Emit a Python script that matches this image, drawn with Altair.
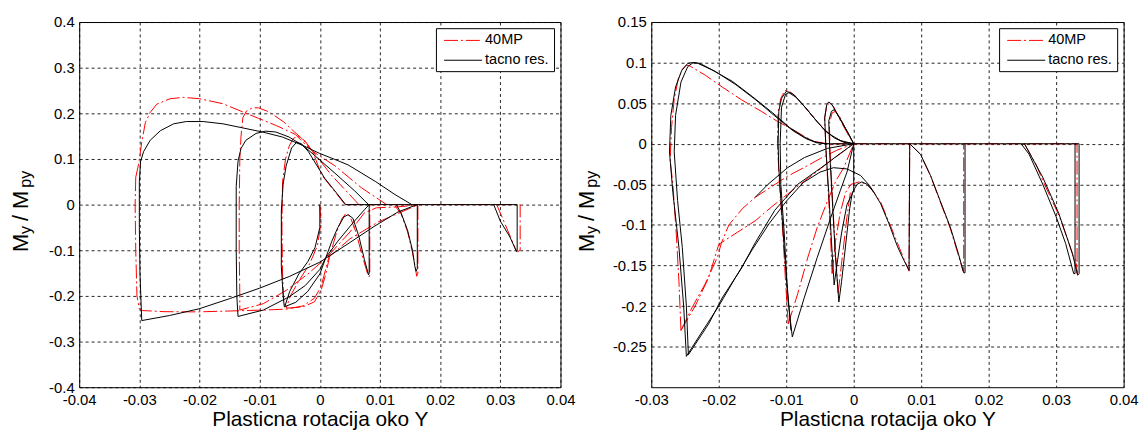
import altair as alt
import pandas as pd

FONT = "Liberation Sans"
RED = "#ff0000"
DASHDOT = [14, 3, 2, 3]

# ---------------- left panel : 40MP (red) ----------------
LR_L3_top = [(-0.0306, 0.06), (-0.0301, 0.09), (-0.0296, 0.137), (-0.029, 0.18), (-0.0282, 0.202),
             (-0.0271, 0.22), (-0.0249, 0.232), (-0.0227, 0.235), (-0.02, 0.232), (-0.0161, 0.221),
             (-0.0128, 0.203), (-0.0102, 0.189), (-0.0072, 0.173), (-0.0041, 0.154), (-0.0025, 0.133),
             (-0.0012, 0.117), (0.0025, 0.085), (0.0069, 0.037), (0.0111, 0.0)]
LR_L3_side = [(-0.0306, 0.06), (-0.0307, 0.0), (-0.0306, -0.1), (-0.0304, -0.2), (-0.0300, -0.229),
              (-0.0295, -0.232), (-0.0259, -0.2345), (-0.0204, -0.235), (-0.0149, -0.233), (-0.0094, -0.231),
              (-0.0056, -0.229), (-0.0028, -0.222), (-0.0009, -0.205), (0.0002, -0.18), (0.001, -0.14),
              (0.0015, -0.115), (0.005, -0.075), (0.0097, -0.038), (0.0164, 0.0)]
LR_L2 = [(0.0065, 0.0), (0.0019, 0.065), (-0.0012, 0.117), (-0.003, 0.145), (-0.0042, 0.159), (-0.006, 0.181),
         (-0.0084, 0.203), (-0.0102, 0.212), (-0.0112, 0.212), (-0.0122, 0.205), (-0.0128, 0.19), (-0.0131, 0.15),
         (-0.0133, 0.1), (-0.0134, 0.0), (-0.0134, -0.1), (-0.0133, -0.2), (-0.0133, -0.231), (-0.0094, -0.217),
         (-0.0056, -0.188), (-0.002, -0.152), (0.0012, -0.115), (0.005, -0.06), (0.0074, -0.018),
         (0.0094, -0.007), (0.0129, -0.005), (0.0162, -0.001)]
LR_spike2 = [(0.0125, -0.003), (0.0135, -0.02), (0.0146, -0.06), (0.0154, -0.105), (0.0159, -0.14),
             (0.0161, -0.157), (0.0163, -0.15), (0.0163, 0.0)]
LR_L1 = [(0.0042, 0.0), (0.0003, 0.065), (-0.0012, 0.117), (-0.0025, 0.14), (-0.0036, 0.15), (-0.0044, 0.145),
         (-0.0051, 0.128), (-0.0057, 0.1), (-0.0062, 0.05), (-0.0063, -0.05), (-0.0062, -0.15), (-0.006, -0.21),
         (-0.0056, -0.227), (-0.0028, -0.224), (-0.0009, -0.213), (0.0002, -0.188), (0.001, -0.152),
         (0.0016, -0.115), (0.0028, -0.06), (0.0037, -0.03), (0.0043, -0.02), (0.005, -0.025), (0.006, -0.06),
         (0.007, -0.11), (0.0079, -0.15), (0.0082, -0.158), (0.0083, -0.15), (0.0083, 0.0)]
LR_init = [(0.0, 0.0), (0.0002, -0.04), (-0.0004, -0.09), (-0.0017, -0.13), (-0.0034, -0.165),
           (-0.0049, -0.2), (-0.0056, -0.227)]
LR_zero = [(0.0042, 0.0), (0.0333, 0.0)]
LR_spike3 = [(0.0294, 0.0), (0.0308, -0.043), (0.0325, -0.097), (0.0329, -0.103), (0.0333, -0.1), (0.0333, 0.0)]

# ---------------- left panel : tacno res. (black) ----------------
LB_L3_top = [(-0.0298, 0.094), (-0.0293, 0.116), (-0.0282, 0.141), (-0.0265, 0.162), (-0.0243, 0.177),
             (-0.0222, 0.182), (-0.0194, 0.182), (-0.0161, 0.177), (-0.0128, 0.168), (-0.0095, 0.159),
             (-0.0062, 0.148), (-0.0029, 0.13), (0.0, 0.112), (0.0025, 0.099), (0.0047, 0.087),
             (0.0092, 0.051), (0.0125, 0.022), (0.0153, 0.0)]
LB_L3_side = [(-0.0298, 0.094), (-0.0300, 0.05), (-0.0300, -0.05), (-0.0299, -0.15), (-0.0297, -0.22),
              (-0.0296, -0.254), (-0.025, -0.243), (-0.02, -0.228), (-0.015, -0.206), (-0.01, -0.183),
              (-0.005, -0.157), (0.0, -0.126), (0.005, -0.083), (0.009, -0.048), (0.013, -0.016), (0.0162, 0.0)]
LB_L2 = [(0.0081, 0.0), (0.0058, 0.03), (0.0025, 0.069), (-0.0015, 0.115), (-0.0029, 0.13), (-0.0051, 0.148),
         (-0.0073, 0.159), (-0.009, 0.161), (-0.0106, 0.156), (-0.0123, 0.141), (-0.0131, 0.123),
         (-0.0136, 0.095), (-0.0139, 0.04), (-0.0139, -0.1), (-0.0138, -0.2), (-0.0136, -0.245),
         (-0.0094, -0.231), (-0.0051, -0.202), (-0.0024, -0.177), (0.0, -0.142), (0.001, -0.116),
         (0.003, -0.08), (0.0055, -0.04), (0.0075, -0.01), (0.0082, 0.0)]
LB_spike2 = [(0.0127, 0.0), (0.0135, -0.018), (0.0146, -0.057), (0.0154, -0.1), (0.0158, -0.136),
             (0.016, -0.146), (0.0162, -0.14), (0.0162, 0.0)]
LB_L1 = [(0.0043, 0.0), (0.0025, 0.03), (0.0008, 0.058), (-0.0019, 0.116), (-0.0031, 0.134), (-0.0039, 0.136),
         (-0.0047, 0.124), (-0.0056, 0.085), (-0.0061, 0.045), (-0.0064, -0.014), (-0.0064, -0.136),
         (-0.0061, -0.2), (-0.0059, -0.224), (-0.004, -0.214), (-0.002, -0.19), (0.0, -0.152), (0.001, -0.116),
         (0.002, -0.08), (0.003, -0.05), (0.004, -0.027), (0.0047, -0.022), (0.0055, -0.03), (0.0065, -0.07),
         (0.0074, -0.12), (0.0081, -0.154), (0.0082, -0.15), (0.0082, 0.0)]
LB_init = [(0.0, 0.0), (0.0, -0.05), (-0.0008, -0.094), (-0.002, -0.125), (-0.0035, -0.152), (-0.005, -0.19),
           (-0.0058, -0.222)]
LB_zero = [(0.0043, 0.0), (0.0328, 0.0)]
LB_spike3 = [(0.0289, 0.0), (0.030, -0.036), (0.0316, -0.071), (0.0327, -0.103), (0.0328, -0.1), (0.0328, 0.0)]

# ---------------- right panel : 40MP (red) ----------------
RR_big = [(-0.0256, -0.23), (-0.0259, -0.17), (-0.0263, -0.11), (-0.0268, -0.05), (-0.0272, -0.02),
          (-0.027, 0.02), (-0.0266, 0.055), (-0.026, 0.08), (-0.0254, 0.092), (-0.0248, 0.097),
          (-0.0242, 0.0955), (-0.022, 0.0845), (-0.0195, 0.07), (-0.0166, 0.054), (-0.0137, 0.04),
          (-0.0112, 0.027), (-0.0093, 0.019), (-0.0073, 0.009), (-0.0059, 0.0029), (-0.0044, 0.0008),
          (-0.0035, 0.0), (0.0, 0.0)]
RR_rise1 = [(-0.0256, -0.23), (-0.0239, -0.201), (-0.022, -0.1725), (-0.0202, -0.14), (-0.0196, -0.122),
            (-0.0185, -0.1), (-0.0165, -0.08), (-0.0146, -0.066), (-0.0122, -0.053), (-0.0098, -0.04),
            (-0.0073, -0.029), (-0.0049, -0.018), (-0.0025, -0.008), (0.0, 0.0)]
RR_rise2 = [(-0.0256, -0.23), (-0.0235, -0.2), (-0.0215, -0.165), (-0.02, -0.124), (-0.0176, -0.111),
            (-0.0146, -0.095), (-0.0122, -0.078), (-0.0098, -0.062), (-0.0073, -0.046), (-0.0034, -0.021),
            (0.0, 0.0)]
RR_R2 = [(-0.0097, -0.222), (-0.0101, -0.17), (-0.0105, -0.11), (-0.011, -0.05), (-0.0113, 0.0),
         (-0.0112, 0.04), (-0.0108, 0.056), (-0.0102, 0.0656), (-0.0096, 0.065), (-0.0088, 0.06),
         (-0.0073, 0.046), (-0.0059, 0.032), (-0.0044, 0.018), (-0.003, 0.008), (-0.0015, 0.002), (0.0, 0.0)]
RR_R2_rise = [(-0.0097, -0.222), (-0.0083, -0.185), (-0.0068, -0.14), (-0.0054, -0.103), (-0.0039, -0.0706),
              (-0.0026, -0.045), (-0.0015, -0.03), (0.0, 0.0)]
RR_sa = [(-0.0032, -0.16), (-0.0035, -0.1), (-0.0039, -0.04), (-0.0042, 0.01), (-0.0043, 0.032),
         (-0.004, 0.047), (-0.0036, 0.05), (-0.003, 0.046), (-0.002, 0.029), (-0.0008, 0.011), (0.0, 0.0)]
RR_sb = [(-0.0023, -0.184), (-0.0028, -0.12), (-0.0032, -0.06), (-0.0035, -0.01), (-0.0036, 0.025),
         (-0.0032, 0.038), (-0.0027, 0.04), (-0.002, 0.032), (-0.001, 0.015), (0.0, 0.0)]
RR_hump = [(-0.0032, -0.16), (-0.0027, -0.12), (-0.002, -0.085), (-0.0012, -0.06), (-0.0004, -0.05),
           (0.0008, -0.047), (0.0016, -0.049), (0.0025, -0.054), (0.004, -0.072), (0.0055, -0.102),
           (0.007, -0.133), (0.0082, -0.157), (0.0083, 0.0)]
RR_hump_b = [(-0.0023, -0.184), (-0.0017, -0.14), (-0.001, -0.09), (-0.0005, -0.06)]
RR_spike2 = [(0.0083, 0.0), (0.0099, -0.013), (0.0114, -0.04), (0.0128, -0.071), (0.0143, -0.104),
             (0.0155, -0.137), (0.0162, -0.157), (0.0163, -0.157), (0.0163, 0.0)]
RR_spike3 = [(0.0253, 0.0), (0.027, -0.025), (0.028, -0.045), (0.0304, -0.088), (0.0318, -0.12),
             (0.0325, -0.138), (0.033, -0.145), (0.0331, -0.16), (0.0331, 0.0)]
RR_zero = [(0.0, 0.0), (0.0331, 0.0)]

# ---------------- right panel : tacno res. (black) ----------------
RB_big_outer = [(-0.0248, -0.262), (-0.0252, -0.2), (-0.0259, -0.128), (-0.0268, -0.06), (-0.0273, -0.01),
                (-0.0271, 0.035), (-0.0264, 0.07), (-0.0255, 0.09), (-0.0246, 0.099), (-0.024, 0.1),
                (-0.0232, 0.0995), (-0.021, 0.091), (-0.018, 0.077), (-0.015, 0.058), (-0.012, 0.038),
                (-0.0095, 0.02), (-0.0075, 0.009), (-0.0058, 0.0025), (-0.0045, 0.0003), (-0.0035, 0.0),
                (0.0, 0.0)]
RB_big_inner = [(-0.0245, -0.26), (-0.0248, -0.2), (-0.0254, -0.128), (-0.0261, -0.07), (-0.0266, -0.01),
                (-0.0264, 0.035), (-0.0256, 0.076), (-0.0246, 0.095), (-0.0238, 0.1), (-0.0228, 0.099),
                (-0.0205, 0.089), (-0.0175, 0.073), (-0.0145, 0.054), (-0.0118, 0.035), (-0.009, 0.016),
                (-0.007, 0.006), (-0.0055, 0.0012), (-0.004, 0.0)]
RB_rise_A = [(-0.0248, -0.262), (-0.0225, -0.232), (-0.02, -0.2), (-0.0176, -0.166), (-0.015, -0.13),
             (-0.0125, -0.098), (-0.01, -0.071), (-0.0075, -0.048), (-0.005, -0.035), (-0.003, -0.0295),
             (-0.001, -0.031), (0.001, -0.039), (0.0023, -0.051), (0.003, -0.06), (0.004, -0.074),
             (0.0052, -0.098), (0.0065, -0.127), (0.0074, -0.143), (0.0082, -0.156), (0.0083, 0.0)]
RB_rise_B = [(-0.0245, -0.26), (-0.0215, -0.222), (-0.0195, -0.19), (-0.0166, -0.153), (-0.0146, -0.122),
             (-0.0117, -0.082), (-0.0083, -0.05), (-0.0049, -0.03), (-0.002, -0.012), (0.0, 0.0)]
RB_shallow = [(0.0, 0.0), (-0.0039, -0.0057), (-0.0073, -0.017), (-0.0098, -0.0295), (-0.0127, -0.05),
              (-0.0146, -0.066)]
RB_R2a = [(-0.0091, -0.238), (-0.0097, -0.195), (-0.0102, -0.14), (-0.0107, -0.08), (-0.0111, -0.03),
          (-0.0112, 0.0), (-0.0111, 0.04), (-0.0107, 0.056), (-0.01, 0.0645), (-0.0094, 0.063),
          (-0.0088, 0.06), (-0.0073, 0.046), (-0.0059, 0.032), (-0.0044, 0.0176), (-0.0029, 0.0074),
          (-0.0015, 0.002), (0.0, 0.0)]
RB_R2b = [(-0.0093, -0.23), (-0.0099, -0.17), (-0.0103, -0.11), (-0.0108, -0.05), (-0.0109, 0.0),
          (-0.0107, 0.045), (-0.0101, 0.061), (-0.0096, 0.063), (-0.0085, 0.057), (-0.007, 0.043),
          (-0.0055, 0.028), (-0.004, 0.014), (-0.002, 0.004), (0.0, 0.0)]
RB_R2_rise = [(-0.0091, -0.238), (-0.0073, -0.189), (-0.0054, -0.14), (-0.0034, -0.091), (-0.002, -0.058),
              (-0.001, -0.035), (0.0, 0.0)]
RB_sa = [(-0.0029, -0.174), (-0.0033, -0.12), (-0.0037, -0.06), (-0.0041, -0.01), (-0.0043, 0.032),
         (-0.004, 0.048), (-0.0037, 0.0516), (-0.0032, 0.048), (-0.002, 0.03), (-0.0007, 0.0115), (0.0, 0.0)]
RB_sb = [(-0.0022, -0.195), (-0.0027, -0.14), (-0.0031, -0.08), (-0.0035, -0.02), (-0.0037, 0.028),
         (-0.0033, 0.04), (-0.0029, 0.042), (-0.0022, 0.034), (-0.001, 0.0156), (0.0, 0.0)]
RB_hump2 = [(-0.0022, -0.195), (-0.0018, -0.17), (-0.0014, -0.14), (-0.001, -0.11), (-0.0006, -0.08),
            (-0.0002, -0.06), (0.0005, -0.05), (0.0012, -0.047), (0.002, -0.05), (0.003, -0.06)]
RB_sa_rise = [(-0.0029, -0.174), (-0.0025, -0.15), (-0.0018, -0.11), (-0.001, -0.075), (0.0, -0.058)]
RB_vert0 = [(0.0, 0.0), (0.0, -0.058)]
RB_spike2 = [(0.0083, 0.0), (0.0099, -0.013), (0.0114, -0.0394), (0.0128, -0.07), (0.0143, -0.1024),
             (0.0155, -0.135), (0.0163, -0.159), (0.0165, -0.159), (0.0165, 0.0)]
RB_spike3a = [(0.0248, 0.0), (0.026, -0.013), (0.028, -0.0496), (0.03, -0.09), (0.0314, -0.1228),
              (0.0326, -0.16), (0.0328, -0.16), (0.0328, 0.0)]
RB_spike3b = [(0.0253, 0.0), (0.028, -0.041), (0.0304, -0.086), (0.0324, -0.135), (0.0332, -0.162),
              (0.0334, -0.16), (0.0334, 0.0)]
RB_zero = [(0.0, 0.0), (0.0334, 0.0)]

LEFT_RED = dict(LR_L3_top=LR_L3_top, LR_L3_side=LR_L3_side, LR_L2=LR_L2, LR_spike2=LR_spike2,
                LR_L1=LR_L1, LR_init=LR_init, LR_zero=LR_zero, LR_spike3=LR_spike3)
LEFT_BLACK = dict(LB_L3_top=LB_L3_top, LB_L3_side=LB_L3_side, LB_L2=LB_L2, LB_spike2=LB_spike2,
                  LB_L1=LB_L1, LB_init=LB_init, LB_zero=LB_zero, LB_spike3=LB_spike3)
RIGHT_RED = dict(RR_big=RR_big, RR_rise1=RR_rise1, RR_rise2=RR_rise2, RR_R2=RR_R2, RR_R2_rise=RR_R2_rise,
                 RR_sa=RR_sa, RR_sb=RR_sb, RR_hump=RR_hump, RR_hump_b=RR_hump_b, RR_spike2=RR_spike2,
                 RR_spike3=RR_spike3, RR_zero=RR_zero)
RIGHT_BLACK = dict(RB_big_outer=RB_big_outer, RB_big_inner=RB_big_inner, RB_rise_A=RB_rise_A,
                   RB_rise_B=RB_rise_B, RB_shallow=RB_shallow, RB_R2a=RB_R2a, RB_R2b=RB_R2b,
                   RB_R2_rise=RB_R2_rise, RB_sa=RB_sa, RB_sb=RB_sb, RB_hump2=RB_hump2,
                   RB_sa_rise=RB_sa_rise, RB_vert0=RB_vert0, RB_spike2=RB_spike2,
                   RB_spike3a=RB_spike3a, RB_spike3b=RB_spike3b, RB_zero=RB_zero)

LEFT_X_TICKS = [-0.04, -0.03, -0.02, -0.01, 0, 0.01, 0.02, 0.03, 0.04]
LEFT_Y_TICKS = [-0.4, -0.3, -0.2, -0.1, 0, 0.1, 0.2, 0.3, 0.4]
RIGHT_X_TICKS = [-0.03, -0.02, -0.01, 0, 0.01, 0.02, 0.03, 0.04]
RIGHT_Y_TICKS = [-0.25, -0.2, -0.15, -0.1, -0.05, 0, 0.05, 0.1, 0.15]
SERIES = ["40MP", "tacno res."]
X_TITLE = "Plasticna rotacija oko Y"

LABEL_EXPR = "replace(format(datum.value, '~g'), '\u2212', '-')"


def to_df(strokes):
    rows = []
    for name, pts in strokes.items():
        for i, (x, y) in enumerate(pts):
            rows.append({"x": x, "y": y, "seg": name, "i": i})
    return pd.DataFrame(rows)


def axis(values, title, pad):
    kw = dict(values=values, labelExpr=LABEL_EXPR, grid=True, gridColor="#000000", gridDash=[3, 3],
              gridOpacity=0.85, gridWidth=1, domain=False, ticks=False, tickSize=0,
              labelFont=FONT, labelFontSize=15, labelColor="#000000", labelPadding=pad,
              labelFlush=False, labelOverlap=False)
    if title is not None:
        kw.update(title=title, titleFont=FONT, titleFontSize=21, titleFontWeight="normal",
                  titleColor="#000000", titlePadding=2)
    else:
        kw.update(title=None)
    return alt.Axis(**kw)


def panel(red_strokes, black_strokes, xdom, xt, ydom, yt, w, h, tx_main):
    X = alt.X("x:Q", scale=alt.Scale(domain=xdom, nice=False, zero=False), axis=axis(xt, X_TITLE, 5))
    Y = alt.Y("y:Q", scale=alt.Scale(domain=ydom, nice=False, zero=False), axis=axis(yt, None, 5))
    red = alt.Chart(to_df(red_strokes)).mark_line(color=RED, strokeWidth=1, strokeDash=DASHDOT, clip=True).encode(
        x=X, y=Y, detail="seg:N", order="i:Q")
    black = alt.Chart(to_df(black_strokes)).mark_line(color="#000000", strokeWidth=1, clip=True).encode(
        x=X, y=Y, detail="seg:N", order="i:Q")
    one = pd.DataFrame({"k": [0]})
    base = alt.Chart(one)
    bx0, bx1 = w - 125, w - 6
    box = base.mark_rect(fill="white", stroke="black", strokeWidth=1).encode(
        x=alt.value(bx0), x2=alt.value(bx1), y=alt.value(6.7), y2=alt.value(50))
    l1 = base.mark_rule(color=RED, strokeWidth=1, strokeDash=DASHDOT).encode(
        x=alt.value(bx0 + 7.7), x2=alt.value(bx0 + 46), y=alt.value(18.5))
    l2 = base.mark_rule(color="#000000", strokeWidth=1).encode(
        x=alt.value(bx0 + 7.7), x2=alt.value(bx0 + 46), y=alt.value(38.5))
    t1 = base.mark_text(align="left", baseline="middle", font=FONT, fontSize=14.6, color="#000000").encode(
        x=alt.value(bx0 + 49), y=alt.value(18.5), text=alt.value(SERIES[0]))
    t2 = base.mark_text(align="left", baseline="middle", font=FONT, fontSize=14.6, color="#000000").encode(
        x=alt.value(bx0 + 49), y=alt.value(38.5), text=alt.value(SERIES[1]))
    # y-axis title "M_y/M_py" built from pieces (main text and subscripts)
    pieces = [("M", 222.5, 22, 0), ("y", 209.5, 16, 3.3), ("/", 197.5, 22, 0), ("M", 179.2, 22, 0),
              ("py", 158.5, 16, 3.3)]
    titles = []
    for txt, yy, fs, dx in pieces:
        titles.append(base.mark_text(angle=270, align="center", baseline="alphabetic", font=FONT,
                                     fontSize=fs, color="#000000").encode(
            x=alt.value(tx_main + dx), y=alt.value(yy), text=alt.value(txt)))
    return alt.layer(red, black, box, l1, l2, t1, t2, *titles).properties(width=w, height=h)


left = panel(LEFT_RED, LEFT_BLACK, [-0.04, 0.04], LEFT_X_TICKS, [-0.4, 0.4], LEFT_Y_TICKS, 485, 368, -52)
right = panel(RIGHT_RED, RIGHT_BLACK, [-0.03, 0.04], RIGHT_X_TICKS, [-0.3, 0.15], RIGHT_Y_TICKS, 476, 368, -58)

chart = alt.hconcat(left, right, spacing=91.5, bounds="flush").properties(
    padding={"left": 0.75, "top": 4.5, "right": 0, "bottom": 0}
).configure_view(stroke="#000000", strokeWidth=1)

chart.save("out.html", embed_options={"renderer": "svg", "actions": False})
